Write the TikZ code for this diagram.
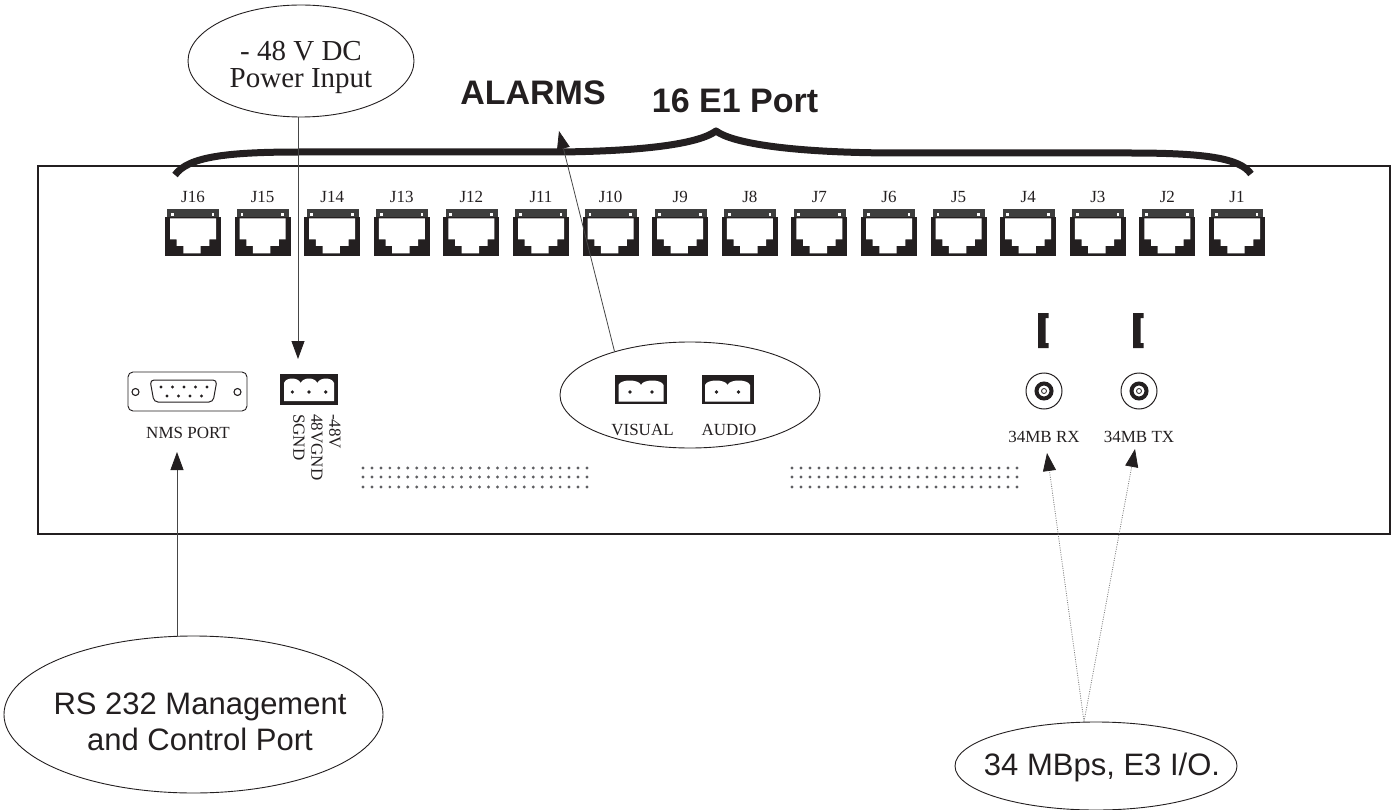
\documentclass[tikz,border=0pt]{standalone}
\usepackage{fontspec}
\setmainfont{Liberation Serif}
\setsansfont{Liberation Sans}
\usetikzlibrary{arrows.meta}
\usetikzlibrary{shapes.geometric}
\definecolor{ink}{RGB}{35,31,32}
\definecolor{stripgray}{RGB}{62,62,62}
\definecolor{wire}{RGB}{70,70,70}
\definecolor{ventgray}{RGB}{95,95,98}

\begin{document}
\begin{tikzpicture}[x=1pt,y=-1pt,
    callout/.style={draw=ink, line width=0.9pt, ellipse, inner sep=0pt},
    lbl/.style={font=\fontsize{17}{18}\selectfont, text=ink, inner sep=0pt},
    head/.style={font=\sffamily\bfseries\fontsize{34}{36}\selectfont, text=ink, inner sep=0pt},
    note/.style={font=\sffamily\fontsize{31}{36}\selectfont, text=ink, inner sep=0pt, align=center},
    arr/.style={draw=wire, line width=0.8pt, -{Triangle[length=18pt,width=13pt,color=ink]}},
    dotarr/.style={arr, draw=gray, dash pattern=on 1pt off 1.3pt}]
    \useasboundingbox (0,0) rectangle (1391,810);

    % chassis
    \draw[ink, line width=1.4pt] (38,166) rectangle (1390,534);

    % brace over the E1 ports
    \draw[ink, line width=7pt, line join=round] (175,175) .. controls (188,157) and (225,152) .. (300,152)
        -- (560,152) .. controls (650,151) and (700,143) .. (716,131)
        .. controls (732,143) and (790,153) .. (900,153)
        -- (1130,153) .. controls (1205,153) and (1240,158) .. (1251,174);

    % headings
    \node[head, anchor=base] (alarmtxt) at (533,105) {ALARMS};
    \node[head, anchor=base] (e1txt) at (735,113) {16 E1 Port};

    % E1 ports J16 ... J1
    \foreach \n in {1,...,16} {
        \pgfmathsetmacro\px{193+(16-\n)*69.6}
        \node[lbl, anchor=base] (j\n) at (\px,203) {J\n};
        \begin{scope}[shift={({\px-28},209)}]
            \fill[stripgray] (2.3,0) rectangle (54.3,7.7);
            \fill[ink] (0,7.7) rectangle (56,47);
            \fill[white] (6,4.3) rectangle (8.7,6.7);
            \fill[white] (46.7,4.3) rectangle (49.3,6.7);
            \fill[white] (5,9.3) -- (51,9.3) -- (51,30.3) -- (44.3,30.3) -- (44.3,37) -- (35.7,37)
                -- (35.7,44.3) -- (18.3,44.3) -- (18.3,37) -- (11.7,37) -- (11.7,30.3) -- (5,30.3) -- cycle;
        \end{scope}
    }

    % power input
    \node[callout, minimum width=226pt, minimum height=112pt] (power) at (301,61) {};
    \node[font=\fontsize{29}{27}\selectfont, text=ink, align=center, inner sep=0pt] (powertxt) at (301,67) {- 48 V DC\\Power Input};

    % power terminal block
    \node[fill=ink, minimum width=58pt, minimum height=31pt, inner sep=0pt] (tb) at (309,389.5) {};
    \fill[white] (284,401) -- (284,383) .. controls (286,377) and (298,377) .. (300.7,383)
        .. controls (303,377) and (315,377) .. (317.3,383)
        .. controls (320,377) and (332,377) .. (334,383) -- (334,401) -- cycle;
    \foreach \d in {292.3,309,325.7}
        \fill[ink] (\d,392) circle (1.8);
    \node[lbl, rotate=-90, anchor=north west, align=left] (tblbl) at (341,414) {-48V\\48VGND\\SGND};

    % NMS port (DB9)
    \node[draw=ink, line width=0.9pt, rounded corners=5pt, minimum width=119pt, minimum height=39pt, inner sep=0pt] (nms) at (187.5,391.5) {};
    \draw[ink, line width=1.1pt] (135.5,392) circle (3.5);
    \draw[ink, line width=1.1pt] (237.5,392) circle (3.5);
    \draw[ink, line width=1pt, rounded corners=4pt] (150,380) -- (217,380) -- (213,402) -- (154,402) -- cycle;
    \foreach \d in {0,...,4}
        \fill[ink] ({161+11.5*\d},387) circle (1.6);
    \foreach \d in {0,...,3}
        \fill[ink] ({167+11.5*\d},396) circle (1.6);
    \node[lbl, anchor=base] (nmslbl) at (188,438) {NMS PORT};

    % alarm outputs
    \node[callout, minimum width=260pt, minimum height=106pt] (alarms) at (690,395) {};
    \foreach \cx/\nm/\txt in {641/vis/VISUAL, 727.5/aud/AUDIO} {
        \node[fill=ink, minimum width=52pt, minimum height=29pt, inner sep=0pt] (\nm) at (\cx,389.5) {};
        \fill[white] ({\cx-22.5},401.5) -- ({\cx-22.5},385) .. controls ({\cx-20.5},379) and ({\cx-2},379) .. (\cx,385)
            .. controls ({\cx+2},379) and ({\cx+20.5},379) .. ({\cx+22.5},385) -- ({\cx+22.5},401.5) -- cycle;
        \fill[ink] ({\cx-11},392) circle (1.8);
        \fill[ink] ({\cx+11},392) circle (1.8);
        \node[lbl, anchor=base] (\nm lbl) at ({\cx+1.5},435) {\txt};
    }

    % E3 BNC connectors
    \foreach \cx/\nm/\txt in {1044/rx/34MB RX, 1139/tx/34MB TX} {
        \fill[ink] ({\cx-6},313) -- ({\cx+4.5},313) -- ({\cx+4.5},318) -- ({\cx+1.5},318) -- ({\cx+1.5},343)
            -- ({\cx+4.5},343) -- ({\cx+4.5},348) -- ({\cx-6},348) -- cycle;
        \node[circle, draw=ink, line width=1pt, minimum size=36pt, inner sep=0pt] (\nm) at (\cx,391) {};
        \draw[ink, line width=4pt] (\nm) circle (7.5);
        \draw[ink, line width=0.8pt] (\nm) circle (2.5);
        \node[lbl, anchor=base] (\nm lbl) at (\cx,442) {\txt};
    }

    % vents
    \foreach \r in {468,477,487}
        \foreach \c in {0,...,25} {
            \fill[ventgray] ({363+8.96*\c},\r) circle (1.6);
            \fill[ventgray] ({792+9*\c},\r) circle (1.6);
        }

    % callouts below
    \node[callout, minimum width=379pt, minimum height=157pt] (rs) at (193.5,714.5) {};
    \node[note] (rstxt) at (200,722) {RS 232 Management\\and Control Port};
    \node[callout, minimum width=282pt, minimum height=88pt] (e3) at (1096,766) {};
    \node[note, anchor=base] (e3txt) at (1102,775) {34 MBps, E3 I/O.};

    % arrows
    \coordinate (pwrtip) at (298,359);
    \coordinate (nmstip) at (177,452);
    \coordinate (alarmtip) at (559,131);
    \coordinate (rxtip) at (1047,453);
    \coordinate (txtip) at (1135,449);
    \draw[arr] (pwrtip |- power.south) -- (pwrtip);
    \draw[arr] (nmstip |- rs.north) -- (nmstip);
    \draw[arr] (alarms.150) -- (alarmtip);
    \draw[dotarr] ([xshift=-12pt]e3.north) -- (rxtip);
    \draw[dotarr] ([xshift=-12pt]e3.north) -- (txtip);
\end{tikzpicture}
\end{document}
